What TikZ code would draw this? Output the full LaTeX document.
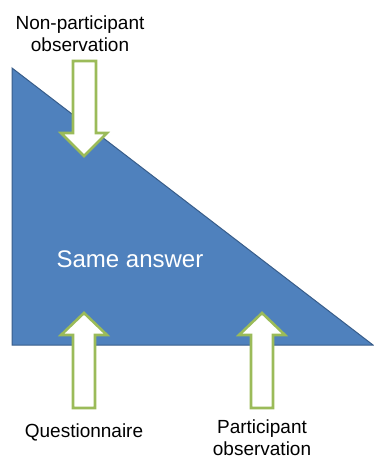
\documentclass[tikz,border=0pt]{standalone}
\usepackage{fontspec}
\setmainfont{Liberation Sans}
\usepackage{tikz}
\usetikzlibrary{positioning}
\definecolor{triblue}{HTML}{4F81BD}
\definecolor{triedge}{HTML}{385D8A}
\definecolor{arrgreen}{HTML}{9BBB59}

\begin{document}
\begin{tikzpicture}[
    x=1pt, y=-1pt,
    every node/.style={font=\fontsize{19}{22}\selectfont, align=center, inner sep=0pt},
    wedge/.style   ={draw=triedge, fill=triblue, line width=1pt},
    blockarr/.style={draw=arrgreen, fill=white, line width=2.6pt, line join=miter},
    caption/.style ={text=black}
]
\useasboundingbox (0,0) rectangle (373,460);

% the triangle
\coordinate (top)   at (12,68);
\coordinate (left)  at (12,345);
\coordinate (right) at (373,345);
\draw[wedge] (top) -- (left) -- (right) -- cycle;
\node[text=white, font=\fontsize{24}{28}\selectfont, anchor=base] (same) at (130,267) {Same answer};

% arrow from above
\draw[blockarr] (73,61) -- (96,61) -- (96,133) -- (107,133) -- (84,156)
    -- (61,133) -- (73,133) -- cycle;
% arrows from below
\foreach \cx in {84,262}
  \draw[blockarr] (\cx-11,408) -- (\cx+11,408) -- (\cx+11,335) -- (\cx+23,335)
      -- (\cx,313) -- (\cx-23,335) -- (\cx-11,335) -- cycle;

\node[caption] (nonpart) at (80,34)  {Non-participant\\observation};
\node[caption, anchor=base] (quest) at (84,437) {Questionnaire};
\node[caption] (part)    at (262,438) {Participant\\observation};
\end{tikzpicture}
\end{document}
